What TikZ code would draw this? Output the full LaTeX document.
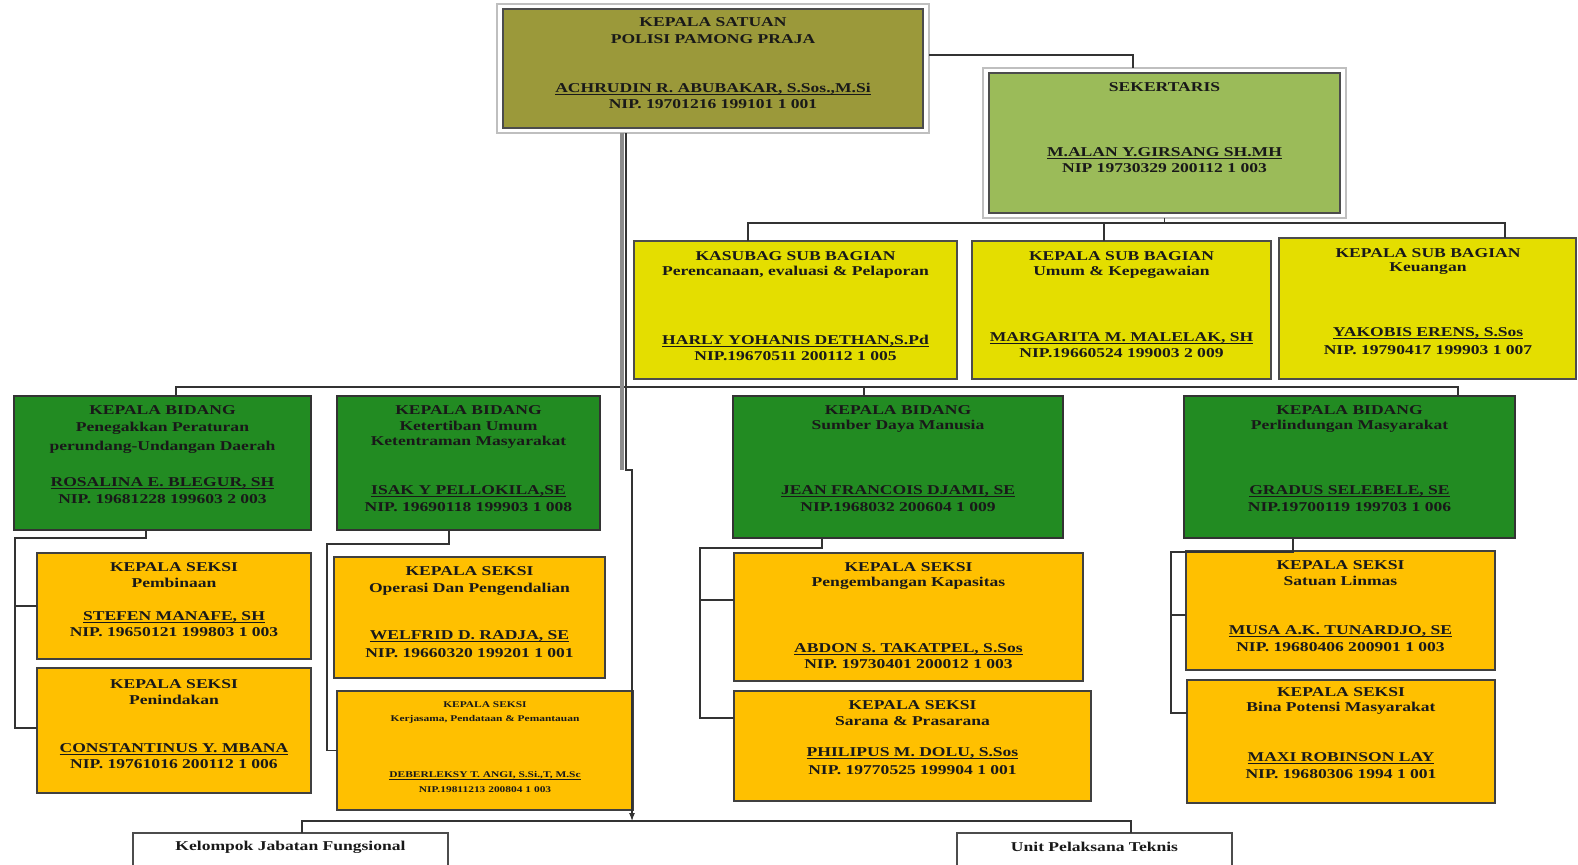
\documentclass[tikz,border=0pt]{standalone}
\usepackage{fontspec}
\setmainfont{Liberation Serif}[FakeStretch=1.3]
\usetikzlibrary{arrows.meta}
\definecolor{olivebox}{RGB}{155,153,58}
\definecolor{sekgreen}{RGB}{155,187,89}
\definecolor{subyellow}{RGB}{228,222,0}
\definecolor{bidgreen}{RGB}{34,139,34}
\definecolor{seksiorange}{RGB}{255,192,0}
\newsavebox\ulbox
\newcommand\ul[1]{\sbox\ulbox{#1}\rlap{\rule[-2.6pt]{\wd\ulbox}{1.1pt}}\usebox\ulbox}
\newcommand\mkbox[6]{\node[#1, minimum width={(#5-#3)*1pt}, minimum height={(#6-#4)*1pt}] (#2) at (#3,#4) {};}
\tikzset{
  bx/.style={draw=black!70, line width=1.2pt, inner sep=0pt, outer sep=0pt, anchor=north west},
  framebx/.style={bx, draw=black!25, fill=white, line width=1.6pt},
  topbx/.style={bx, fill=olivebox},
  sekbx/.style={bx, fill=sekgreen},
  subbx/.style={bx, fill=subyellow},
  bidbx/.style={bx, fill=bidgreen, draw=black!80},
  seksibx/.style={bx, fill=seksiorange, draw=black!75},
  plainbx/.style={bx, fill=white},
  txt/.style={font=\bfseries\fontsize{13.5}{15}\selectfont, inner sep=0pt, text=black!90},
  smalltxt/.style={font=\bfseries\fontsize{8.8}{10}\selectfont, inner sep=0pt, text=black!90},
  conn/.style={draw=black!80, line width=1.1pt},
}
\begin{document}
\begin{tikzpicture}[x=1pt,y=-1pt]
\useasboundingbox (0,0) rectangle (1578,864);
% frames and top boxes
\mkbox{framebx}{topframe}{497}{4}{929}{133}
\mkbox{topbx}{top}{503}{9}{923}{128}
\mkbox{framebx}{sekframe}{983}{68}{1346}{218}
\mkbox{sekbx}{sek}{989}{73}{1340}{213}
% sub bagian
\mkbox{subbx}{sub1}{634}{241}{957}{379}
\mkbox{subbx}{sub2}{972}{241}{1271}{379}
\mkbox{subbx}{sub3}{1279}{238}{1576}{379}
% bidang
\mkbox{bidbx}{bid1}{14}{396}{311}{530}
\mkbox{bidbx}{bid2}{337}{396}{600}{530}
\mkbox{bidbx}{bid3}{733}{396}{1063}{538}
\mkbox{bidbx}{bid4}{1184}{396}{1515}{538}
% seksi
\mkbox{seksibx}{pem}{37}{553}{311}{659}
\mkbox{seksibx}{pen}{37}{668}{311}{793}
\mkbox{seksibx}{ope}{334}{557}{605}{678}
\mkbox{seksibx}{ker}{337}{691}{633}{810}
\mkbox{seksibx}{peng}{734}{553}{1083}{681}
\mkbox{seksibx}{sar}{734}{691}{1091}{801}
\mkbox{seksibx}{lin}{1186}{551}{1495}{670}
\mkbox{seksibx}{bin}{1187}{680}{1495}{803}
% bottom
\mkbox{plainbx}{kjf}{133}{833}{448}{872}
\mkbox{plainbx}{upt}{957}{833}{1232}{872}

% connectors
\draw[conn] (topframe.east |- 0,55) -| (sekframe.north -| 1133,0);
\draw[conn] (sub1.north -| 748,0) -- (748,223) -- (1505,223) -- (sub3.north -| 1505,0);
\draw[conn] (sub2.north -| 1104,0) -- (1104,223);
\draw[conn] (sekframe.south) -- (sekframe.south |- 0,223);
\draw[conn] (bid1.north -| 176,0) -- (176,387) -- (1458,387) -- (bid4.north -| 1458,0);
\draw[conn] (bid3.north -| 864,0) -- (864,387);
% bidang 1 group
\draw[conn] (bid1.south -| 146,0) |- (15,538) |- (pen.west |- 0,728);
\draw[conn] (pem.west -| 15,0) -- (pem.west);
% bidang 2 group
\draw[conn] (bid2.south -| 449,0) |- (327,544) |- (ker.west);
% bidang 3 group
\draw[conn] (bid3.south -| 822,0) |- (700,548) |- (sar.west |- 0,718);
\draw[conn] (700,600) -- (peng.west |- 0,600);
% bidang 4 group
\draw[conn] (bid4.south -| 1293,0) |- (1171,552) |- (bin.west |- 0,713);
\draw[conn] (1171,615) -- (lin.west |- 0,615);
% central line
\draw[line width=3.5pt, black!45] (topframe.south -| 622,0) -- (622,470);
\draw[conn, -{Latex[length=8pt,width=6pt]}] (topframe.south -| 626,0) -- (626,470) -- (632,470) -- (632,821);
\draw[conn] (kjf.north -| 302,0) -- (302,821) -- (1131,821) -- (upt.north -| 1131,0);

% texts: top
\node[txt] (topA) at (top.center |- 0,22) {KEPALA SATUAN};
\node[txt] (topB) at (top.center |- 0,39) {POLISI PAMONG PRAJA};
\node[txt] (topC) at (top.center |- 0,89) {\ul{ACHRUDIN R. ABUBAKAR, S.Sos.,M.Si}};
\node[txt] (topD) at (top.center |- 0,104) {NIP. 19701216 199101 1 001};
% sek
\node[txt] (sekA) at (sek.center |- 0,87) {SEKERTARIS};
\node[txt] (sekB) at (sek.center |- 0,153) {\ul{M.ALAN Y.GIRSANG SH.MH}};
\node[txt] (sekC) at (sek.center |- 0,168) {NIP 19730329 200112 1 003};
% sub1
\node[txt] (s1A) at (sub1.center |- 0,256) {KASUBAG SUB BAGIAN};
\node[txt] (s1B) at (sub1.center |- 0,272) {Perencanaan, evaluasi \& Pelaporan};
\node[txt] (s1C) at (sub1.center |- 0,341) {\ul{HARLY YOHANIS DETHAN,S.Pd}};
\node[txt] (s1D) at (sub1.center |- 0,356) {NIP.19670511 200112 1 005};
% sub2
\node[txt] (s2A) at (sub2.center |- 0,256) {KEPALA SUB BAGIAN};
\node[txt] (s2B) at (sub2.center |- 0,272) {Umum \& Kepegawaian};
\node[txt] (s2C) at (sub2.center |- 0,338) {\ul{MARGARITA M. MALELAK, SH}};
\node[txt] (s2D) at (sub2.center |- 0,353) {NIP.19660524 199003 2 009};
% sub3
\node[txt] (s3A) at (1428,253) {KEPALA SUB BAGIAN};
\node[txt] (s3B) at (1428,269) {Keuangan};
\node[txt] (s3C) at (1428,333) {\ul{YAKOBIS ERENS, S.Sos}};
\node[txt] (s3D) at (1428,350) {NIP. 19790417 199903 1 007};
% bid1
\node[txt] (b1A) at (bid1.center |- 0,410) {KEPALA BIDANG};
\node[txt] (b1B) at (bid1.center |- 0,428) {Penegakkan Peraturan};
\node[txt] (b1C) at (bid1.center |- 0,447) {perundang-Undangan Daerah};
\node[txt] (b1D) at (bid1.center |- 0,483) {\ul{ROSALINA E. BLEGUR, SH}};
\node[txt] (b1E) at (bid1.center |- 0,499) {NIP. 19681228 199603 2 003};
% bid2
\node[txt] (b2A) at (bid2.center |- 0,410) {KEPALA BIDANG};
\node[txt] (b2B) at (bid2.center |- 0,426) {Ketertiban Umum};
\node[txt] (b2C) at (bid2.center |- 0,442) {Ketentraman Masyarakat};
\node[txt] (b2D) at (bid2.center |- 0,491) {\ul{ISAK Y PELLOKILA,SE}};
\node[txt] (b2E) at (bid2.center |- 0,507) {NIP. 19690118 199903 1 008};
% bid3
\node[txt] (b3A) at (bid3.center |- 0,410) {KEPALA BIDANG};
\node[txt] (b3B) at (bid3.center |- 0,426) {Sumber Daya Manusia};
\node[txt] (b3D) at (bid3.center |- 0,491) {\ul{JEAN FRANCOIS DJAMI, SE}};
\node[txt] (b3E) at (bid3.center |- 0,507) {NIP.1968032 200604 1 009};
% bid4
\node[txt] (b4A) at (bid4.center |- 0,410) {KEPALA BIDANG};
\node[txt] (b4B) at (bid4.center |- 0,426) {Perlindungan Masyarakat};
\node[txt] (b4D) at (bid4.center |- 0,491) {\ul{GRADUS SELEBELE, SE}};
\node[txt] (b4E) at (bid4.center |- 0,507) {NIP.19700119 199703 1 006};
% pem
\node[txt] (pemA) at (pem.center |- 0,567) {KEPALA SEKSI};
\node[txt] (pemB) at (pem.center |- 0,583) {Pembinaan};
\node[txt] (pemC) at (pem.center |- 0,617) {\ul{STEFEN MANAFE, SH}};
\node[txt] (pemD) at (pem.center |- 0,632) {NIP. 19650121 199803 1 003};
% pen
\node[txt] (penA) at (pen.center |- 0,684) {KEPALA SEKSI};
\node[txt] (penB) at (pen.center |- 0,700) {Penindakan};
\node[txt] (penC) at (pen.center |- 0,749) {\ul{CONSTANTINUS Y. MBANA}};
\node[txt] (penD) at (pen.center |- 0,764) {NIP. 19761016 200112 1 006};
% ope
\node[txt] (opeA) at (ope.center |- 0,571) {KEPALA SEKSI};
\node[txt] (opeB) at (ope.center |- 0,589) {Operasi Dan Pengendalian};
\node[txt] (opeC) at (ope.center |- 0,636) {\ul{WELFRID D. RADJA, SE}};
\node[txt] (opeD) at (ope.center |- 0,653) {NIP. 19660320 199201 1 001};
% ker
\node[smalltxt] (kerA) at (ker.center |- 0,705) {KEPALA SEKSI};
\node[smalltxt] (kerB) at (ker.center |- 0,719) {Kerjasama, Pendataan \& Pemantauan};
\node[smalltxt] (kerC) at (ker.center |- 0,776) {\ul{DEBERLEKSY T. ANGI, S.Si.,T, M.Sc}};
\node[smalltxt] (kerD) at (ker.center |- 0,790) {NIP.19811213 200804 1 003};
% peng
\node[txt] (pgA) at (peng.center |- 0,567) {KEPALA SEKSI};
\node[txt] (pgB) at (peng.center |- 0,583) {Pengembangan Kapasitas};
\node[txt] (pgC) at (peng.center |- 0,649) {\ul{ABDON S. TAKATPEL, S.Sos}};
\node[txt] (pgD) at (peng.center |- 0,664) {NIP. 19730401 200012 1 003};
% sar
\node[txt] (sarA) at (sar.center |- 0,705) {KEPALA SEKSI};
\node[txt] (sarB) at (sar.center |- 0,721) {Sarana \& Prasarana};
\node[txt] (sarC) at (sar.center |- 0,753) {\ul{PHILIPUS M. DOLU, S.Sos}};
\node[txt] (sarD) at (sar.center |- 0,770) {NIP. 19770525 199904 1 001};
% lin
\node[txt] (linA) at (lin.center |- 0,565) {KEPALA SEKSI};
\node[txt] (linB) at (lin.center |- 0,581) {Satuan Linmas};
\node[txt] (linC) at (lin.center |- 0,631) {\ul{MUSA A.K. TUNARDJO, SE}};
\node[txt] (linD) at (lin.center |- 0,647) {NIP. 19680406 200901 1 003};
% bin
\node[txt] (binA) at (bin.center |- 0,692) {KEPALA SEKSI};
\node[txt] (binB) at (bin.center |- 0,708) {Bina Potensi Masyarakat};
\node[txt] (binC) at (bin.center |- 0,758) {\ul{MAXI ROBINSON LAY}};
\node[txt] (binD) at (bin.center |- 0,774) {NIP. 19680306 1994 1 001};
% bottom
\node[txt] (kjfA) at (kjf.center |- 0,847) {Kelompok Jabatan Fungsional};
\node[txt] (uptA) at (upt.center |- 0,847) {Unit Pelaksana Teknis};
\end{tikzpicture}
\end{document}
